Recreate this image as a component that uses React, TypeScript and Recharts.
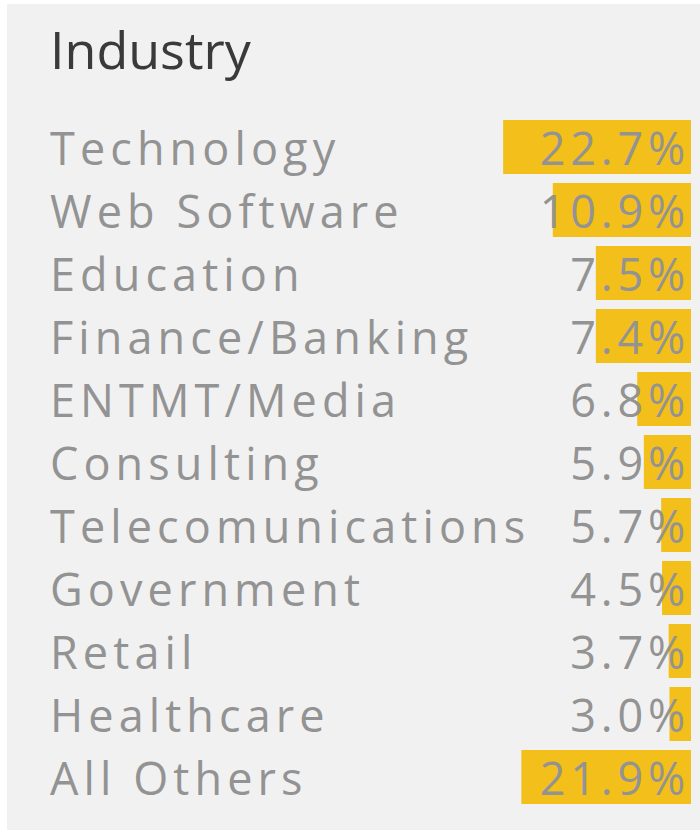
import { Bar, BarChart, XAxis, YAxis, LabelList } from "recharts"

const industries = [
  "Technology",
  "Web Software",
  "Education",
  "Finance/Banking",
  "ENTMT/Media",
  "Consulting",
  "Telecomunications",
  "Government",
  "Retail",
  "Healthcare",
  "All Others",
]

// shares printed next to each row
const shares = [22.7, 10.9, 7.5, 7.4, 6.8, 5.9, 5.7, 4.5, 3.7, 3.0, 21.9]

// bar lengths as drawn in the picture (same % units, not proportional to the printed shares)
const barLengths = [22.7, 16.7, 11.5, 11.5, 6.5, 5.7, 3.6, 3.5, 2.7, 2.6, 20.5]

const data = industries.map((name, i) => ({
  name,
  share: shares[i],
  bar: barLengths[i],
}))

const font = "'Open Sans', sans-serif"
const textGray = "#939393"

function NameLabel(props: any) {
  const { y, height, value } = props
  return (
    <text x={43} y={y + height / 2} dy={18} fill={textGray} fontFamily={font} fontSize={45} letterSpacing={5.1} textAnchor="start">
      {value}
    </text>
  )
}

function ShareLabel(props: any) {
  const { x, y, width, height, value } = props
  const right = Math.max(x, x + width)
  return (
    <text
      x={right - 1}
      y={y + height / 2}
      dy={18}
      fill={textGray}
      fontFamily={font}
      fontSize={45}
      letterSpacing={4.8}
      textAnchor="end"
    >
      {Number(value).toFixed(1) + "%"}
    </text>
  )
}

export default function App() {
  return (
    <div style={{ position: "absolute", left: 7, top: 4, width: 693, height: 826, background: "#f1f1f1" }}>
      <div
        style={{
          position: "absolute",
          left: 43,
          top: 10,
          fontFamily: font,
          fontSize: 52,
          lineHeight: "70px",
          color: "#3a3a3a",
        }}
      >
        Industry
      </div>
      <BarChart
        width={693}
        height={826}
        data={data}
        layout="vertical"
        margin={{ top: 111, right: 9, bottom: 22, left: 22 }}
        barCategoryGap={0}
      >
        <XAxis type="number" domain={[0, 80]} reversed hide />
        <YAxis type="category" dataKey="name" hide />
        <Bar dataKey="bar" fill="#f3bf1b" barSize={54} isAnimationActive={false}>
          <LabelList dataKey="name" content={<NameLabel />} />
          <LabelList dataKey="share" content={<ShareLabel />} />
        </Bar>
      </BarChart>
    </div>
  )
}
